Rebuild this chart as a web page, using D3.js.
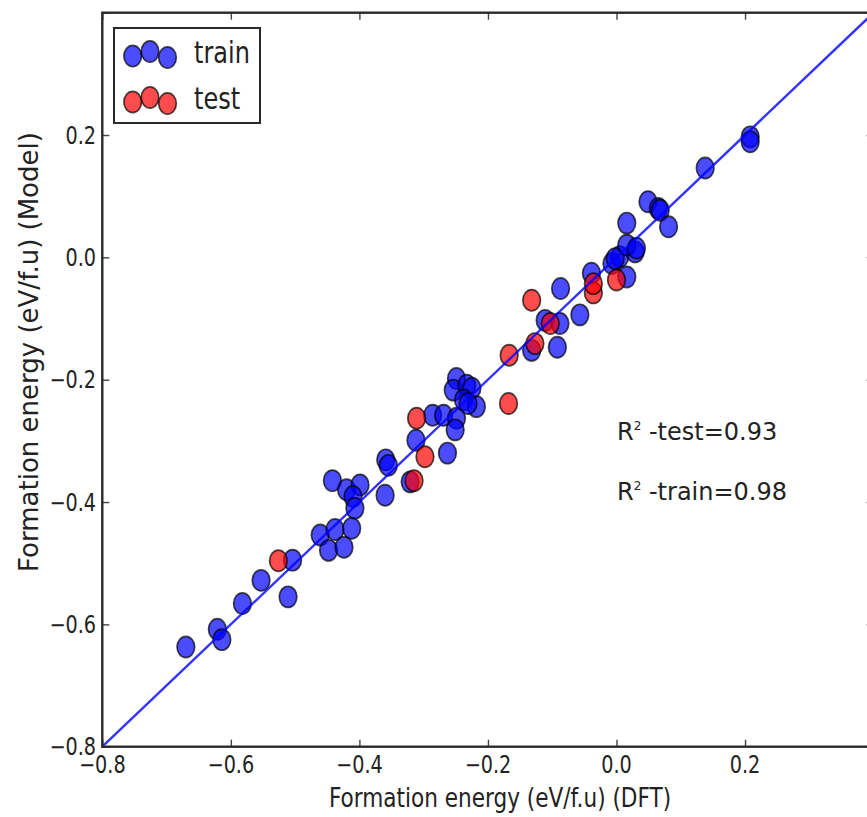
<!DOCTYPE html>
<html>
<head>
<meta charset="utf-8">
<script src="https://cdn.jsdelivr.net/npm/d3@7"></script>
<style>
  html, body { margin: 0; padding: 0; background: #fff; overflow: hidden; }
  svg { display: block; font-family: "DejaVu Sans", sans-serif; }
</style>
</head>
<body>
<svg id="chart" width="867" height="817"></svg>
<script>
// ---- data ----
const trainX = [-0.670, -0.621, -0.614, -0.582, -0.553, -0.511, -0.504, -0.461, -0.448, -0.438,
                -0.424, -0.412, -0.442, -0.420, -0.399, -0.410, -0.407, -0.359, -0.355, -0.360,
                -0.321, -0.312, -0.263, -0.286, -0.269, -0.249, -0.251, -0.249, -0.254, -0.233,
                -0.225, -0.238, -0.218, -0.231, -0.132, -0.092, -0.111, -0.088, -0.087, -0.057,
                -0.039, 0.016, -0.007, 0.005, 0.029, -0.002, 0.016, 0.031, 0.016, 0.049,
                0.065, 0.068, 0.081, 0.138, 0.208, 0.208];
const trainY = [-0.637, -0.608, -0.625, -0.566, -0.528, -0.555, -0.495, -0.454, -0.479, -0.445,
                -0.474, -0.443, -0.365, -0.380, -0.372, -0.391, -0.410, -0.331, -0.340, -0.389,
                -0.367, -0.299, -0.320, -0.258, -0.258, -0.263, -0.282, -0.198, -0.217, -0.209,
                -0.214, -0.233, -0.244, -0.239, -0.152, -0.147, -0.103, -0.108, -0.051, -0.094,
                -0.026, -0.032, -0.010, 0.001, 0.009, -0.002, 0.020, 0.015, 0.056, 0.091,
                0.080, 0.077, 0.050, 0.146, 0.197, 0.189];
const testX = [-0.526, -0.315, -0.298, -0.311, -0.167, -0.168, -0.127, -0.103, -0.132, -0.036, -0.036, 0.000];
const testY = [-0.496, -0.365, -0.326, -0.263, -0.160, -0.239, -0.141, -0.108, -0.070, -0.058, -0.043, -0.037];
const lineX = [-0.8, 0.4];
const lineY = [-0.8, 0.4];
const xTicks = [-0.8, -0.6, -0.4, -0.2, 0.0, 0.2];
const yTicks = [-0.8, -0.6, -0.4, -0.2, 0.0, 0.2];
const allTicks = [-0.8, -0.6, -0.4, -0.2, 0.0, 0.2, 0.4];
const seriesNames = ["train", "test"];
const xTitle = "Formation energy (eV/f.u) (DFT)";
const yTitle = "Formation energy (eV/f.u) (Model)";
const r2Labels = [["-test=0.93"], ["-train=0.98"]];

// ---- layout ----
const svg = d3.select("#chart");
const x = d3.scaleLinear().domain([-0.8, 0.4]).range([102.3, 873.6]);
const y = d3.scaleLinear().domain([-0.8, 0.4]).range([746.7, 12.7]);
const SX = 0.8; // horizontal squeeze of horizontal text seen in the reference
const colors = { train: "rgba(0,0,255,0.7)", test: "rgba(255,0,0,0.7)" };
const edge = "rgba(0,0,0,0.7)";
const RX = 8.8, RY = 10.6;

// markers
function drawSeries(xs, ys, fill) {
  svg.append("g").selectAll("ellipse")
    .data(xs.map((d, i) => [d, ys[i]]))
    .join("ellipse")
    .attr("cx", d => x(d[0]))
    .attr("cy", d => y(d[1]))
    .attr("rx", RX).attr("ry", RY)
    .attr("fill", fill)
    .attr("stroke", edge)
    .attr("stroke-width", 1.7);
}
drawSeries(trainX, trainY, colors.train);
drawSeries(testX, testY, colors.test);

// diagonal line
svg.append("path")
  .datum(lineX.map((d, i) => [d, lineY[i]]))
  .attr("d", d3.line().x(d => x(d[0])).y(d => y(d[1])))
  .attr("stroke", "#0000ff").attr("stroke-width", 2.4).attr("fill", "none")
  .attr("opacity", 0.8);

// axes with inward ticks on all sides
const tickLen = 7;
const axB = d3.axisBottom(x).tickValues(allTicks).tickSize(-tickLen).tickFormat("");
const axT = d3.axisTop(x).tickValues(allTicks).tickSize(-tickLen).tickFormat("");
const axL = d3.axisLeft(y).tickValues(allTicks).tickSize(-tickLen).tickFormat("");
const axR = d3.axisRight(y).tickValues(allTicks).tickSize(-tickLen).tickFormat("");
function styleAx(g) {
  g.select(".domain").remove();
  g.selectAll(".tick line").attr("stroke", "#444").attr("stroke-width", 1.4);
}
svg.append("g").attr("transform", `translate(0,${y(-0.8)})`).call(axB).call(styleAx);
svg.append("g").attr("transform", `translate(0,${y(0.4)})`).call(axT).call(styleAx);
svg.append("g").attr("transform", `translate(${x(-0.8)},0)`).call(axL).call(styleAx);
svg.append("g").attr("transform", `translate(${x(0.4)},0)`).call(axR).call(styleAx);

// frame
svg.append("rect")
  .attr("x", x(-0.8)).attr("y", y(0.4))
  .attr("width", x(0.4) - x(-0.8)).attr("height", y(-0.8) - y(0.4))
  .attr("fill", "none").attr("stroke", "#2a2a2a").attr("stroke-width", 2.4);

// tick labels
const fmt = d => (d < 0 ? "\u2212" : "") + Math.abs(d).toFixed(1);
svg.append("g").selectAll("text").data(xTicks).join("text")
  .attr("transform", d => `translate(${x(d)},773) scale(${SX},1)`)
  .attr("text-anchor", "middle")
  .attr("font-size", 24).attr("fill", "#222")
  .text(fmt);
svg.append("g").selectAll("text").data(yTicks).join("text")
  .attr("transform", d => `translate(96,${y(d) + 8.6}) scale(${SX},1)`)
  .attr("text-anchor", "end")
  .attr("font-size", 24).attr("fill", "#222")
  .text(fmt);

// axis titles
svg.append("text")
  .attr("transform", `translate(500,807) scale(${SX},1)`)
  .attr("text-anchor", "middle").attr("font-size", 27).attr("fill", "#222")
  .text(xTitle);
svg.append("text")
  .attr("transform", `translate(38,352) rotate(-90)`)
  .attr("text-anchor", "middle").attr("font-size", 26).attr("fill", "#222")
  .text(yTitle);

// R^2 annotations
const r2Y = [440, 500];
r2Labels.forEach((lab, i) => {
  const t = svg.append("text")
    .attr("x", 617).attr("y", r2Y[i])
    .attr("font-size", 24).attr("fill", "#222");
  t.append("tspan").text("R");
  t.append("tspan").attr("font-size", 12).attr("dy", -10).text("2");
  t.append("tspan").attr("dy", 10).text("\u00a0" + lab[0]);
});

// legend
const lg = svg.append("g");
lg.append("rect").attr("x", 114).attr("y", 28).attr("width", 146).attr("height", 95)
  .attr("fill", "#fff").attr("stroke", "#2a2a2a").attr("stroke-width", 2);
const legMarkX = [132.7, 150, 167.5];
const legMarkDY = [0, -4.5, 1.5];
const legRowY = [56, 102];
seriesNames.forEach((name, i) => {
  legMarkX.forEach((mx, j) => {
    lg.append("ellipse")
      .attr("cx", mx).attr("cy", legRowY[i] + legMarkDY[j])
      .attr("rx", RX).attr("ry", RY)
      .attr("fill", colors[name]).attr("stroke", edge).attr("stroke-width", 1.7);
  });
  lg.append("text")
    .attr("transform", `translate(194,${legRowY[i] + 7}) scale(${SX},1)`)
    .attr("font-size", 30).attr("fill", "#222")
    .text(name);
});
</script>
</body>
</html>
